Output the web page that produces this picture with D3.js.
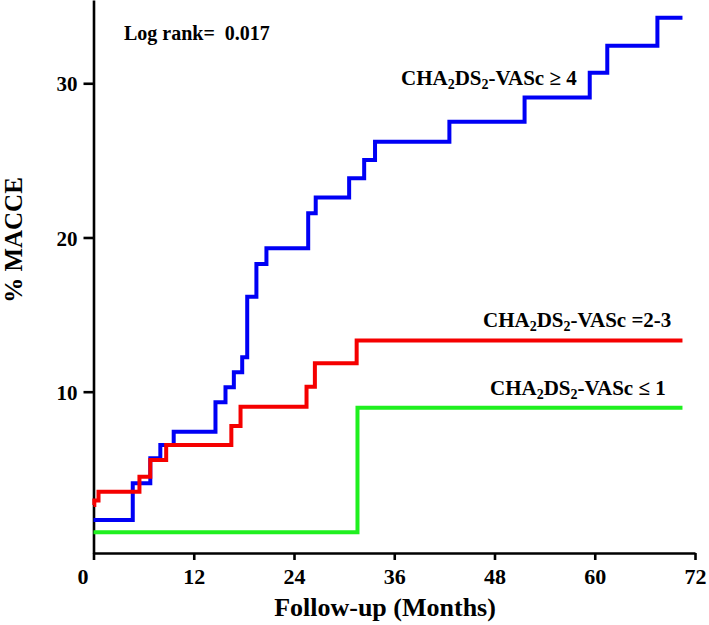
<!DOCTYPE html>
<html>
<head>
<meta charset="utf-8">
<script src="https://cdn.jsdelivr.net/npm/d3@7"></script>
<style>
  body { margin: 0; background: #fff; }
  svg { display: block; }
</style>
</head>
<body>
<div id="chart"></div>
<script>
// follow-up months and cumulative % MACCE
const highMonths = [0, 4.7, 6.8, 8.0, 9.6, 14.6, 15.8, 16.8, 17.8, 18.4, 19.5, 20.7, 25.7, 26.6, 30.6, 32.4, 33.7, 42.6, 51.6, 59.4, 61.5, 67.5, 70.5];
const highValues = [1.68, 4.06, 5.68, 6.54, 7.41, 9.31, 10.29, 11.26, 12.23, 16.16, 18.28, 19.3, 21.57, 22.6, 23.84, 25.03, 26.21, 27.5, 29.07, 30.69, 32.44, 34.25, 34.25];

const midMonths = [0, 0.1, 0.6, 5.5, 6.8, 8.7, 16.5, 17.6, 25.5, 26.5, 31.5, 70.5];
const midValues = [2.65, 2.95, 3.51, 4.49, 5.57, 6.54, 7.78, 9.03, 10.32, 11.84, 13.32, 13.32];

const lowMonths = [0, 31.6, 70.5];
const lowValues = [0.88, 8.96, 8.96];

const xTicks = [0, 12, 24, 36, 48, 60, 72];
const yTicks = [10, 20, 30];

const width = 709;
const height = 625;
const font = "'Times New Roman', 'Liberation Serif', serif";

const svg = d3.select('#chart').append('svg')
  .attr('width', width)
  .attr('height', height)
  .style('background', '#fff');

const x = d3.scaleLinear().domain([0, 72]).range([93.5, 695]);
const y = d3.scaleLinear().domain([-0.46, 35.4]).range([553, 0]);

// axes
const xAxis = svg.append('g')
  .attr('transform', `translate(0,${y(-0.46)})`)
  .call(d3.axisBottom(x).tickValues(xTicks).tickSize(7).tickSizeOuter(0).tickPadding(8));

const yAxis = svg.append('g')
  .attr('transform', `translate(${x(0)},0)`)
  .call(d3.axisLeft(y).tickValues(yTicks).tickSize(10).tickSizeOuter(0).tickPadding(6));

[xAxis, yAxis].forEach(g => {
  g.select('.domain').attr('stroke', '#000').attr('stroke-width', 2.6);
  g.selectAll('.tick line').attr('stroke', '#000').attr('stroke-width', 2.6);
  g.selectAll('.tick text')
    .style('font-family', font)
    .style('font-weight', 'bold')
    .attr('fill', '#000');
});
xAxis.selectAll('.tick text').style('font-size', '22px');
xAxis.selectAll('.tick text').filter(d => d === 0).attr('dx', -11);
yAxis.selectAll('.tick text').style('font-size', '21px').attr('dy', '0.36em');

// curves
const line = d3.line()
  .x(d => x(d[0]))
  .y(d => y(d[1]))
  .curve(d3.curveStepAfter);

const groups = [
  { months: lowMonths, values: lowValues, color: '#1ff01f' },
  { months: highMonths, values: highValues, color: '#0000f5' },
  { months: midMonths, values: midValues, color: '#f50000' },
];

groups.forEach(g => {
  const pts = g.months.map((m, i) => [m, g.values[i]]);
  svg.append('path')
    .datum(pts)
    .attr('d', line)
    .attr('fill', 'none')
    .attr('stroke', g.color)
    .attr('stroke-width', 4)
    .attr('stroke-linejoin', 'miter');
});

// texts
const label = (xPos, yPos, size) => svg.append('text')
  .attr('x', xPos)
  .attr('y', yPos)
  .style('font-family', font)
  .style('font-weight', 'bold')
  .style('font-size', size + 'px')
  .attr('fill', '#000');

label(124, 40, 20).attr('xml:space', 'preserve').text('Log rank=  0.017');

const scoreLabel = (xPos, yPos, tail) => {
  const t = label(xPos, yPos, 21);
  t.append('tspan').text('CHA');
  t.append('tspan').attr('dy', 4).style('font-size', '14px').text('2');
  t.append('tspan').attr('dy', -4).text('DS');
  t.append('tspan').attr('dy', 4).style('font-size', '14px').text('2');
  t.append('tspan').attr('dy', -4).text('-VASc ' + tail);
};
scoreLabel(401, 85, '\u2265 4');
scoreLabel(483, 327, '=2-3');
scoreLabel(490, 395, '\u2264 1');

label(385, 616, 26).attr('text-anchor', 'middle').text('Follow-up (Months)');

label(0, 0, 25)
  .attr('text-anchor', 'middle')
  .attr('transform', 'translate(22,240) rotate(-90)')
  .text('% MACCE');
</script>
</body>
</html>
